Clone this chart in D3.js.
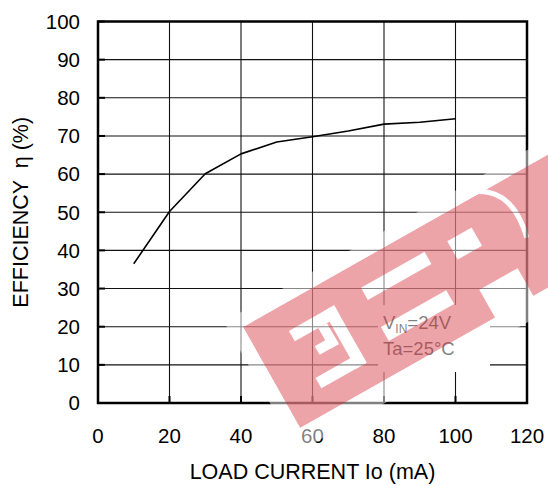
<!DOCTYPE html>
<html>
<head>
<meta charset="utf-8">
<script src="https://cdn.jsdelivr.net/npm/d3@7"></script>
<style>
  html, body { margin: 0; padding: 0; background: #fff; }
  svg { display: block; }
  text { font-family: "Liberation Sans", Arial, sans-serif; fill: #000; }
</style>
</head>
<body>
<svg id="chart" width="548" height="486"></svg>
<script>
// ---- data ----
const loadCurrent = [10, 20, 30, 40, 50, 60, 70, 80, 90, 100];
const efficiency  = [36.5, 50.2, 60.1, 65.3, 68.4, 69.8, 71.3, 73.1, 73.6, 74.5];
const xTicks = [0, 20, 40, 60, 80, 100, 120];
const yTicks = [0, 10, 20, 30, 40, 50, 60, 70, 80, 90, 100];
const xTitle = "LOAD CURRENT Io (mA)";
const yTitle = "EFFICIENCY  \u03B7 (%)";
const noteLine1 = ["V", "IN", "=24V"];
const noteLine2 = "Ta=25\u00B0C";

// ---- layout ----
const svg = d3.select("#chart");
const x = d3.scaleLinear().domain([0, 120]).range([98, 527]);
const y = d3.scaleLinear().domain([0, 100]).range([403, 21.5]);

// grid
const grid = svg.append("g");
grid.selectAll("line.v").data(xTicks.slice(1, -1)).join("line")
  .attr("x1", d => x(d)).attr("x2", d => x(d))
  .attr("y1", y(100)).attr("y2", y(0))
  .attr("stroke", "#111").attr("stroke-width", 1.1);
grid.selectAll("line.h").data(yTicks.slice(1, -1)).join("line")
  .attr("x1", x(0)).attr("x2", x(120))
  .attr("y1", d => y(d)).attr("y2", d => y(d))
  .attr("stroke", "#111").attr("stroke-width", 1.1);

// inward tick marks
svg.append("g").selectAll("line").data(yTicks).join("line")
  .attr("x1", x(0)).attr("x2", x(0) + 7)
  .attr("y1", d => y(d)).attr("y2", d => y(d))
  .attr("stroke", "#000").attr("stroke-width", 2);
svg.append("g").selectAll("line").data(xTicks).join("line")
  .attr("x1", d => x(d)).attr("x2", d => x(d))
  .attr("y1", y(0)).attr("y2", y(0) - 7)
  .attr("stroke", "#000").attr("stroke-width", 2);

// annotation background (breaks the grid)
svg.append("rect").attr("x", 378).attr("y", 305).attr("width", 112).attr("height", 67).attr("fill", "#fff");

// frame
svg.append("rect")
  .attr("x", x(0)).attr("y", y(100))
  .attr("width", x(120) - x(0)).attr("height", y(0) - y(100))
  .attr("fill", "none").attr("stroke", "#000").attr("stroke-width", 2.5);

// curve
svg.append("path")
  .datum(loadCurrent.map((d, i) => [d, efficiency[i]]))
  .attr("d", d3.line().x(d => x(d[0])).y(d => y(d[1])))
  .attr("fill", "none").attr("stroke", "#000").attr("stroke-width", 1.6)
  .attr("stroke-linejoin", "round");

// tick labels
svg.append("g").selectAll("text").data(yTicks).join("text")
  .attr("x", 80).attr("y", d => y(d)).attr("dy", "0.36em")
  .attr("text-anchor", "end").attr("font-size", 20.5)
  .text(d => d);
svg.append("g").selectAll("text").data(xTicks).join("text")
  .attr("x", d => x(d)).attr("y", 443)
  .attr("text-anchor", "middle").attr("font-size", 20.5)
  .text(d => d);

// axis titles
svg.append("text").attr("x", (x(0) + x(120)) / 2).attr("y", 479)
  .attr("text-anchor", "middle").attr("font-size", 21.5).text(xTitle);
svg.append("text")
  .attr("transform", `translate(28,${(y(0) + y(100)) / 2}) rotate(-90)`)
  .attr("text-anchor", "middle").attr("font-size", 21.5)
  .style("white-space", "pre").text(yTitle);

// annotation
const t1 = svg.append("text").attr("x", 383).attr("y", 329).attr("font-size", 18.5).attr("fill", "#222");
t1.append("tspan").text(noteLine1[0]);
t1.append("tspan").attr("font-size", 12).attr("dy", 4).text(noteLine1[1]);
t1.append("tspan").attr("dy", -4).text(noteLine1[2]);
svg.append("text").attr("x", 383).attr("y", 355).attr("font-size", 18.5).attr("fill", "#222").text(noteLine2);

// ---- watermark (EEPW logo, rotated band) ----
const defs = svg.append("defs");
const mask = defs.append("mask").attr("id", "wmMask").attr("maskUnits", "userSpaceOnUse")
  .attr("x", -100).attr("y", -100).attr("width", 700).attr("height", 400);
const holes = [
  [38, 26, 52, 12], [78, 26, 12, 66], [38, 80, 52, 12],
  [65, 38, 10, 24], [53, 52, 22, 10],
  [122, 24, 73, 14], [120, 68, 75, 16],
  [220, 26, 28, 21], [224, 84, 44, 40]
];
mask.append("rect").attr("x", 0).attr("y", 0).attr("width", 420).attr("height", 116).attr("fill", "#fff");
mask.selectAll("rect.h").data(holes).join("rect").attr("class", "h")
  .attr("x", d => d[0]).attr("y", d => d[1]).attr("width", d => d[2]).attr("height", d => d[3])
  .attr("fill", "#000");
mask.append("path").attr("d", "M262,-6 Q304,8 291,62").attr("fill", "none")
  .attr("stroke", "#000").attr("stroke-width", 5);

const wm = svg.append("g").attr("transform", "translate(243,327) rotate(-29.5)");
wm.append("rect").attr("x", -14).attr("y", -14).attr("width", 444).attr("height", 150)
  .attr("fill", "#fff").attr("opacity", 0.5);
wm.append("rect").attr("x", 0).attr("y", 0).attr("width", 420).attr("height", 116)
  .attr("fill", "rgb(214,40,52)").attr("opacity", 0.42).attr("mask", "url(#wmMask)");
</script>
</body>
</html>
